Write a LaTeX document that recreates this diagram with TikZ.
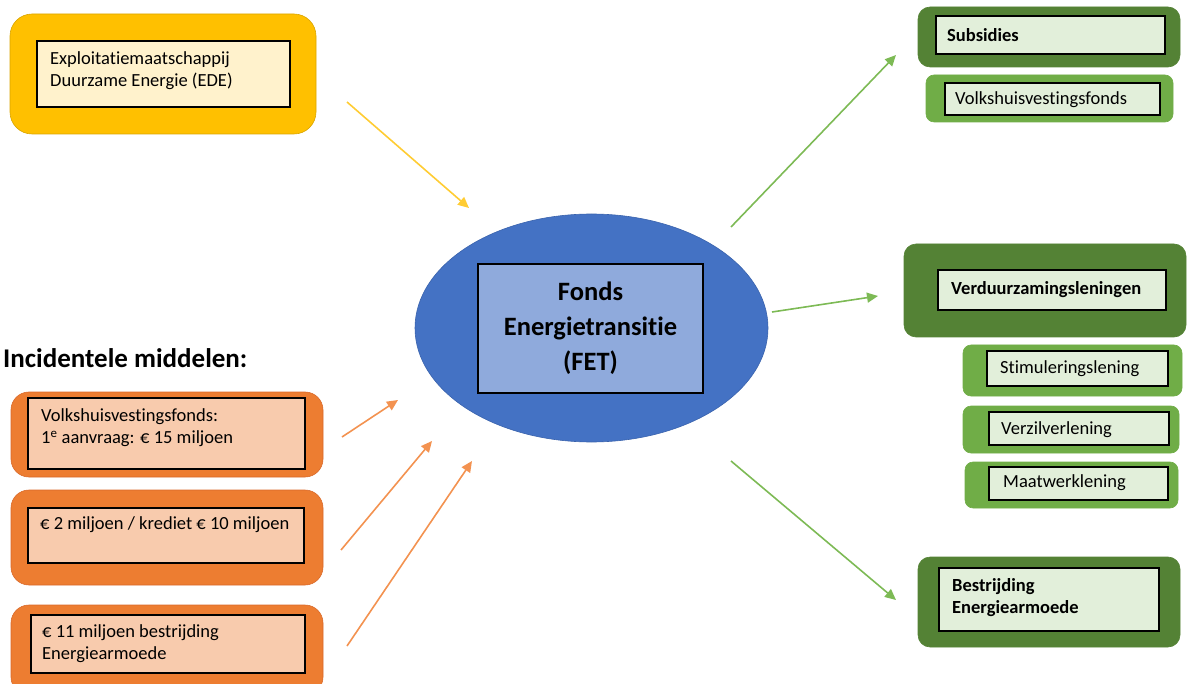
\documentclass[tikz,border=0pt]{standalone}
\usepackage{fontspec}
\setmainfont{Carlito}[Ligatures={NoCommon}]
\usetikzlibrary{shapes.geometric,arrows.meta}
\definecolor{yelO}{HTML}{FFC000}
\definecolor{yelB}{HTML}{D9A400}
\definecolor{yelI}{HTML}{FFF2CC}
\definecolor{orO}{HTML}{ED7D31}
\definecolor{orB}{HTML}{D9692A}
\definecolor{orI}{HTML}{F8CBAD}
\definecolor{dgO}{HTML}{548235}
\definecolor{lgO}{HTML}{70AD47}
\definecolor{gI}{HTML}{E2EFDA}
\definecolor{blO}{HTML}{4472C4}
\definecolor{blB}{HTML}{3A63AD}
\definecolor{blI}{HTML}{8FAADC}
\definecolor{yelA}{HTML}{FFCC33}
\definecolor{orA}{HTML}{F39250}
\definecolor{grA}{HTML}{7DBA55}
\begin{document}
\begin{tikzpicture}[x=1pt,y=-1pt,
  every node/.style={font=\fontsize{18.5}{22}\selectfont},
  outer/.style={rectangle, inner sep=0pt, line width=0.6pt},
  yout/.style={outer, fill=yelO, draw=yelB, rounded corners=22pt},
  oout/.style={outer, fill=orO, draw=orB, rounded corners=18pt},
  dgout/.style={outer, fill=dgO, draw=dgO, rounded corners=12pt},
  lgout/.style={outer, fill=lgO, draw=lgO, rounded corners=8pt},
  inbox/.style={rectangle, inner sep=0pt, draw=black, line width=1.3pt},
  lbl/.style={anchor=west, align=left, inner sep=0pt},
  blbl/.style={lbl, font=\fontsize{18.5}{22}\selectfont\bfseries},
  arr/.style={line width=1.6pt, -{Triangle[length=11pt,width=10pt]}},
]
\useasboundingbox (0,0) rectangle (1188,684);

% EDE
\node[yout, minimum width=306pt, minimum height=120pt] (edeO) at (163,74) {};
\node[inbox, fill=yelI, minimum width=253pt, minimum height=66pt] (edeI) at (163.5,74) {};
\node[lbl] (edeT) at (50,71) {Exploitatiemaatschappij\\Duurzame Energie (EDE)};

% FET
\node[ellipse, fill=blO, draw=blB, line width=0.6pt, inner sep=0pt, minimum width=353pt, minimum height=228pt] (fetO) at (591.5,328) {};
\node[inbox, fill=blI, minimum width=225pt, minimum height=129pt, align=center,
  font=\fontsize{26.5}{35}\selectfont\bfseries] (fet) at (590.5,328.5) {Fonds\\Energietransitie\\(FET)};

% Right side
\node[dgout, minimum width=262pt, minimum height=60pt] (subO) at (1049,37) {};
\node[inbox, fill=gI, minimum width=229pt, minimum height=38pt] (subI) at (1050.5,35) {};
\node[blbl] (subT) at (947,35) {Subsidies};

\node[lgout, minimum width=247pt, minimum height=47pt] (vhfO) at (1049.5,98.5) {};
\node[inbox, fill=gI, minimum width=215pt, minimum height=32pt] (vhfI) at (1052.5,99) {};
\node[lbl] (vhfT) at (955,100) {Volkshuisvestingsfonds};

\node[dgout, minimum width=282pt, minimum height=93pt] (verO) at (1045,290.5) {};
\node[inbox, fill=gI, minimum width=228pt, minimum height=40pt] (verI) at (1052,290) {};
\node[blbl] (verT) at (951,290) {Verduurzamingsleningen};

\node[lgout, minimum width=219pt, minimum height=51pt] (stiO) at (1072.5,370.5) {};
\node[inbox, fill=gI, minimum width=181pt, minimum height=35pt] (stiI) at (1077.5,368.5) {};
\node[lbl] (stiT) at (1000,369) {Stimuleringslening};

\node[lgout, minimum width=216pt, minimum height=47pt] (vzlO) at (1071,429.5) {};
\node[inbox, fill=gI, minimum width=180pt, minimum height=33pt] (vzlI) at (1079,428.5) {};
\node[lbl] (vzlT) at (1001,430) {Verzilverlening};

\node[lgout, minimum width=213pt, minimum height=46pt] (maaO) at (1071.5,485) {};
\node[inbox, fill=gI, minimum width=179pt, minimum height=33pt] (maaI) at (1078.5,483.5) {};
\node[lbl] (maaT) at (1003,483) {Maatwerklening};

\node[dgout, minimum width=262pt, minimum height=90pt] (besO) at (1049,602) {};
\node[inbox, fill=gI, minimum width=220pt, minimum height=63pt] (besI) at (1049,599.5) {};
\node[blbl] (besT) at (952,598) {Bestrijding\\Energiearmoede};

% Left bottom
\node[anchor=west, inner sep=0pt, font=\fontsize{27}{30}\selectfont\bfseries] (inc) at (3,358) {Incidentele middelen:};

\node[oout, minimum width=312pt, minimum height=85pt] (o1O) at (167,434.5) {};
\node[inbox, fill=orI, minimum width=277pt, minimum height=71pt] (o1I) at (166.5,433.5) {};
\node[lbl] (o1T) at (41,428) {Volkshuisvestingsfonds:\\1\textsuperscript{e} aanvraag: € 15 miljoen};

\node[oout, minimum width=312pt, minimum height=95pt] (o2O) at (167,537.5) {};
\node[inbox, fill=orI, minimum width=276pt, minimum height=55pt] (o2I) at (166,535.5) {};
\node[lbl] (o2T) at (40,525) {€ 2 miljoen / krediet € 10 miljoen};

\node[oout, minimum width=312pt, minimum height=90pt] (o3O) at (167,650) {};
\node[inbox, fill=orI, minimum width=274pt, minimum height=58pt] (o3I) at (168,644) {};
\node[lbl] (o3T) at (42,644) {€ 11 miljoen bestrijding\\Energiearmoede};

% Arrow end points
\coordinate (ya) at (347,102); \coordinate (yb) at (469,208);
\coordinate (g1a) at (731,227); \coordinate (g1b) at (896,55);
\coordinate (g2a) at (772,312); \coordinate (g2b) at (878,296);
\coordinate (g3a) at (731,461); \coordinate (g3b) at (896,600);
\coordinate (o1a) at (342,437); \coordinate (o1b) at (398,400);
\coordinate (o2a) at (341,550); \coordinate (o2b) at (432,441);
\coordinate (o3a) at (347,646); \coordinate (o3b) at (472,461);

\draw[arr, yelA] (ya) -- (yb);
\draw[arr, grA] (g1a) -- (g1b);
\draw[arr, grA] (g2a) -- (g2b);
\draw[arr, grA] (g3a) -- (g3b);
\draw[arr, orA] (o1a) -- (o1b);
\draw[arr, orA] (o2a) -- (o2b);
\draw[arr, orA] (o3a) -- (o3b);
\end{tikzpicture}
\end{document}
